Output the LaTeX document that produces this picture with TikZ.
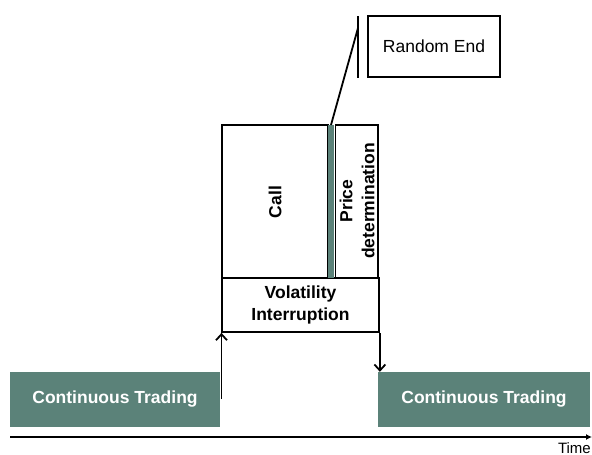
\documentclass[tikz,border=0pt]{standalone}
\usepackage{fontspec}
\setmainfont{Liberation Sans}
\usetikzlibrary{arrows.meta}
\definecolor{teal1}{RGB}{91,130,121}
\begin{document}
\begin{tikzpicture}[x=1pt,y=-1pt,
  boxline/.style={draw=black,line width=1.8pt},
  ctbox/.style={fill=teal1,draw=none,minimum width=210pt,minimum height=55pt,inner sep=0pt,
     text=white,font=\fontsize{17.5}{21}\selectfont\bfseries},
  lbl/.style={font=\fontsize{17.5}{22}\selectfont\bfseries,align=center,inner sep=0pt},
  conn/.style={line width=1.8pt,-{Straight Barb[length=6pt,width=11pt]}}]
\useasboundingbox (0,0) rectangle (592,455);
% continuous trading boxes
\node[ctbox] (ct1) at (115,399.5) {Continuous Trading};
\node[ctbox,minimum width=212pt] (ct2) at (484,399.5) {Continuous Trading};
% volatility interruption
\node[boxline,minimum width=157pt,minimum height=54pt,inner sep=0pt,lbl] (vi) at (300.5,305) {Volatility\\Interruption};
% call
\draw[boxline] (222,278) rectangle (328,125);
\node[lbl,rotate=90] (call) at (275,202) {Call};
% teal strip
\fill[teal1] (328,125) rectangle (334,278);
\coordinate (strip) at (331,125);
% price determination
\draw[boxline] (335.5,278) rectangle (378,125);
\node[lbl,rotate=90] (pd) at (357,201) {Price\\determination};
% random end
\draw[line width=1.8pt] (358,16) -- (358,78);
\coordinate (reTop) at (358,28);
\draw[line width=1.8pt] (strip) -- (reTop);
\node[boxline,minimum width=132pt,minimum height=61pt,inner sep=0pt,
  font=\fontsize{17.5}{21}\selectfont] (re) at (434,46.5) {Random End};
% arrows
\coordinate (upStart) at (221.5,399);
\draw[conn] (upStart) -- (vi.south west -| upStart);
\draw[conn] (vi.south east) -- (ct2.north west -| vi.south east);
% time axis
\coordinate (ax0) at (10,437);
\coordinate (ax1) at (592,437);
\draw[line width=1.3pt,-{Latex[length=6pt,width=6pt]}] (ax0) -- (ax1);
\node[anchor=north east,inner sep=0pt,font=\fontsize{15}{17}\selectfont] (time) at (591,442) {Time};
\end{tikzpicture}
\end{document}
